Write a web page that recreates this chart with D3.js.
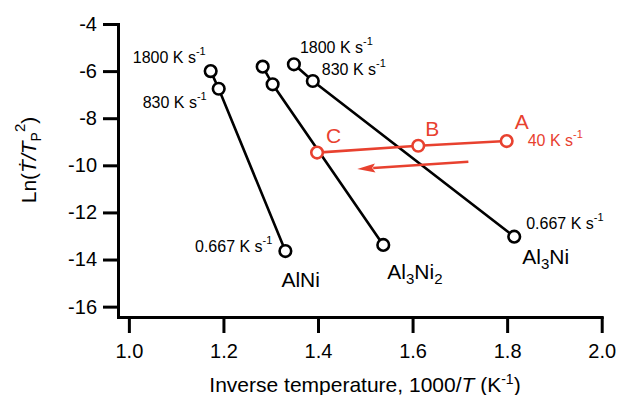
<!DOCTYPE html>
<html>
<head>
<meta charset="utf-8">
<script src="https://cdn.jsdelivr.net/npm/d3@7"></script>
<style>
  body { margin: 0; background: #fff; }
  text { font-family: "Liberation Sans", Arial, Helvetica, sans-serif; }
</style>
</head>
<body>
<script>
// data
var phases = ["AlNi", "Al3Ni2", "Al3Ni"];
var rates = ["1800", "830", "0.667"];
var alniX = [1.173, 1.190, 1.331];
var alniY = [-6.00, -6.75, -13.64];
var al3ni2X = [1.283, 1.304, 1.538];
var al3ni2Y = [-5.81, -6.56, -13.38];
var al3niX = [1.349, 1.389, 1.815];
var al3niY = [-5.71, -6.42, -13.03];
var redLabels = ["A", "B", "C"];
var redX = [1.799, 1.612, 1.398];
var redY = [-8.97, -9.17, -9.46];
var arrowX = [1.718, 1.483];
var arrowY = [-9.85, -10.16];
var xTicks = [1.0, 1.2, 1.4, 1.6, 1.8, 2.0];
var yTicks = [-16, -14, -12, -10, -8, -6, -4];

var width = 617, height = 395;
var red = "#e8412f";

var svg = d3.select("body").append("svg")
    .attr("width", width)
    .attr("height", height);

var x = d3.scaleLinear().domain([0.977, 2.0]).range([118, 601.7]);
var y = d3.scaleLinear().domain([-16.44, -4]).range([317, 24]);

// axes
var xAxis = svg.append("g")
    .attr("transform", "translate(0,317)")
    .call(d3.axisBottom(x).tickValues(xTicks).tickFormat(d3.format(".1f"))
        .tickSize(16).tickSizeOuter(0).tickPadding(11));
var yAxis = svg.append("g")
    .attr("transform", "translate(118,0)")
    .call(d3.axisLeft(y).tickValues(yTicks).tickFormat(function(d){ return String(d); })
        .tickSize(15).tickSizeOuter(0).tickPadding(6));

[xAxis, yAxis].forEach(function(g){
    g.select(".domain").attr("stroke", "#000").attr("stroke-width", 3).attr("stroke-linecap", "square");
    g.selectAll(".tick line").attr("stroke", "#000").attr("stroke-width", 3);
    g.selectAll(".tick text").attr("fill", "#000").style("font-size", "20px");
});

// axis titles
var xt = svg.append("text")
    .attr("x", 365).attr("y", 392)
    .attr("text-anchor", "middle")
    .style("font-size", "21px");
xt.append("tspan").text("Inverse temperature, 1000/");
xt.append("tspan").style("font-style", "italic").text("T");
xt.append("tspan").text(" (K");
xt.append("tspan").attr("dy", -8).style("font-size", "14px").text("-1");
xt.append("tspan").attr("dy", 8).text(")");

var yt = svg.append("text")
    .attr("transform", "translate(36,160) rotate(-90)")
    .attr("text-anchor", "middle")
    .style("font-size", "21px");
yt.append("tspan").text("Ln(");
yt.append("tspan").style("font-style", "italic").text("\u1E6A");
yt.append("tspan").style("font-style", "italic").text("/T");
yt.append("tspan").attr("dy", 5).style("font-size", "14px").text("P");
yt.append("tspan").attr("dy", -16).style("font-size", "15px").text("2");
yt.append("tspan").attr("dy", 11).text(")");

// black series
var series = [
    {name: phases[0], xs: alniX, ys: alniY},
    {name: phases[1], xs: al3ni2X, ys: al3ni2Y},
    {name: phases[2], xs: al3niX, ys: al3niY}
];

var line = d3.line().x(function(d){ return x(d[0]); }).y(function(d){ return y(d[1]); });

series.forEach(function(s){
    var pts = d3.zip(s.xs, s.ys);
    svg.append("path")
        .attr("d", line(pts))
        .attr("fill", "none")
        .attr("stroke", "#000")
        .attr("stroke-width", 2.6);
    svg.selectAll(null).data(pts).enter().append("circle")
        .attr("cx", function(d){ return x(d[0]); })
        .attr("cy", function(d){ return y(d[1]); })
        .attr("r", 5.8)
        .attr("fill", "#fff")
        .attr("stroke", "#000")
        .attr("stroke-width", 2.6);
});

// red A-B-C series
var redPts = d3.zip(redX, redY);
svg.append("path")
    .attr("d", line(redPts))
    .attr("fill", "none")
    .attr("stroke", red)
    .attr("stroke-width", 2.6);
svg.selectAll(null).data(redPts).enter().append("circle")
    .attr("cx", function(d){ return x(d[0]); })
    .attr("cy", function(d){ return y(d[1]); })
    .attr("r", 5.8)
    .attr("fill", "#fff")
    .attr("stroke", red)
    .attr("stroke-width", 2.6);

// arrow: shaft plus a drawn head at the left end
var ax0 = x(arrowX[0]), ay0 = y(arrowY[0]), ax1 = x(arrowX[1]), ay1 = y(arrowY[1]);
var ang = Math.atan2(ay1 - ay0, ax1 - ax0);
var headLen = 18, headW = 4.5;
svg.append("line")
    .attr("x1", ax0).attr("y1", ay0)
    .attr("x2", ax1 - Math.cos(ang) * (headLen - 2)).attr("y2", ay1 - Math.sin(ang) * (headLen - 2))
    .attr("stroke", red)
    .attr("stroke-width", 2.6);
svg.append("path")
    .attr("d", "M0,0 L" + (-headLen) + "," + (-headW) + " L" + (-headLen + 3) + ",0 L" + (-headLen) + "," + headW + " Z")
    .attr("transform", "translate(" + ax1 + "," + ay1 + ") rotate(" + (ang * 180 / Math.PI) + ")")
    .attr("fill", red);

// rate labels
function rateLabel(px, py, txt, anchor, color){
    var t = svg.append("text")
        .attr("x", px).attr("y", py)
        .attr("text-anchor", anchor)
        .attr("fill", color || "#000")
        .style("font-size", "16px");
    t.append("tspan").text(txt + " K s");
    t.append("tspan").attr("dy", -8).style("font-size", "11px").text("-1");
}
rateLabel(x(alniX[0]) - 5, y(alniY[0]) - 8, rates[0], "end");
rateLabel(x(alniX[1]) - 12, y(alniY[1]) + 19, rates[1], "end");
rateLabel(x(alniX[2]) - 13, y(alniY[2]) + 1, rates[2], "end");
rateLabel(x(al3niX[0]) + 6, y(al3niY[0]) - 11, rates[0], "start");
rateLabel(x(al3niX[1]) + 9, y(al3niY[1]) - 6, rates[1], "start");
rateLabel(x(al3niX[2]) + 12, y(al3niY[2]) - 8, rates[2], "start");
rateLabel(x(redX[0]) + 21, y(redY[0]) + 5, "40", "start", red);

// A B C letters
var letterOff = [[8, -12], [7, -10], [9, -10]];
redLabels.forEach(function(l, i){
    svg.append("text")
        .attr("x", x(redX[i]) + letterOff[i][0])
        .attr("y", y(redY[i]) + letterOff[i][1])
        .attr("fill", red)
        .style("font-size", "21px")
        .text(l);
});

// phase labels
function phaseLabel(px, py, parts){
    var t = svg.append("text").attr("x", px).attr("y", py).style("font-size", "21px");
    parts.forEach(function(p){
        if (p.sub) {
            t.append("tspan").attr("dy", 5).style("font-size", "15px").text(p.s);
        } else {
            t.append("tspan").attr("dy", p.back ? -5 : 0).text(p.s);
        }
    });
}
phaseLabel(x(alniX[2]) - 4, y(alniY[2]) + 36, [{s: "AlNi"}]);
phaseLabel(x(al3ni2X[2]) + 4, y(al3ni2Y[2]) + 34,
    [{s: "Al"}, {s: "3", sub: true}, {s: "Ni", back: true}, {s: "2", sub: true}]);
phaseLabel(x(al3niX[2]) + 8, y(al3niY[2]) + 27,
    [{s: "Al"}, {s: "3", sub: true}, {s: "Ni", back: true}]);
</script>
</body>
</html>
